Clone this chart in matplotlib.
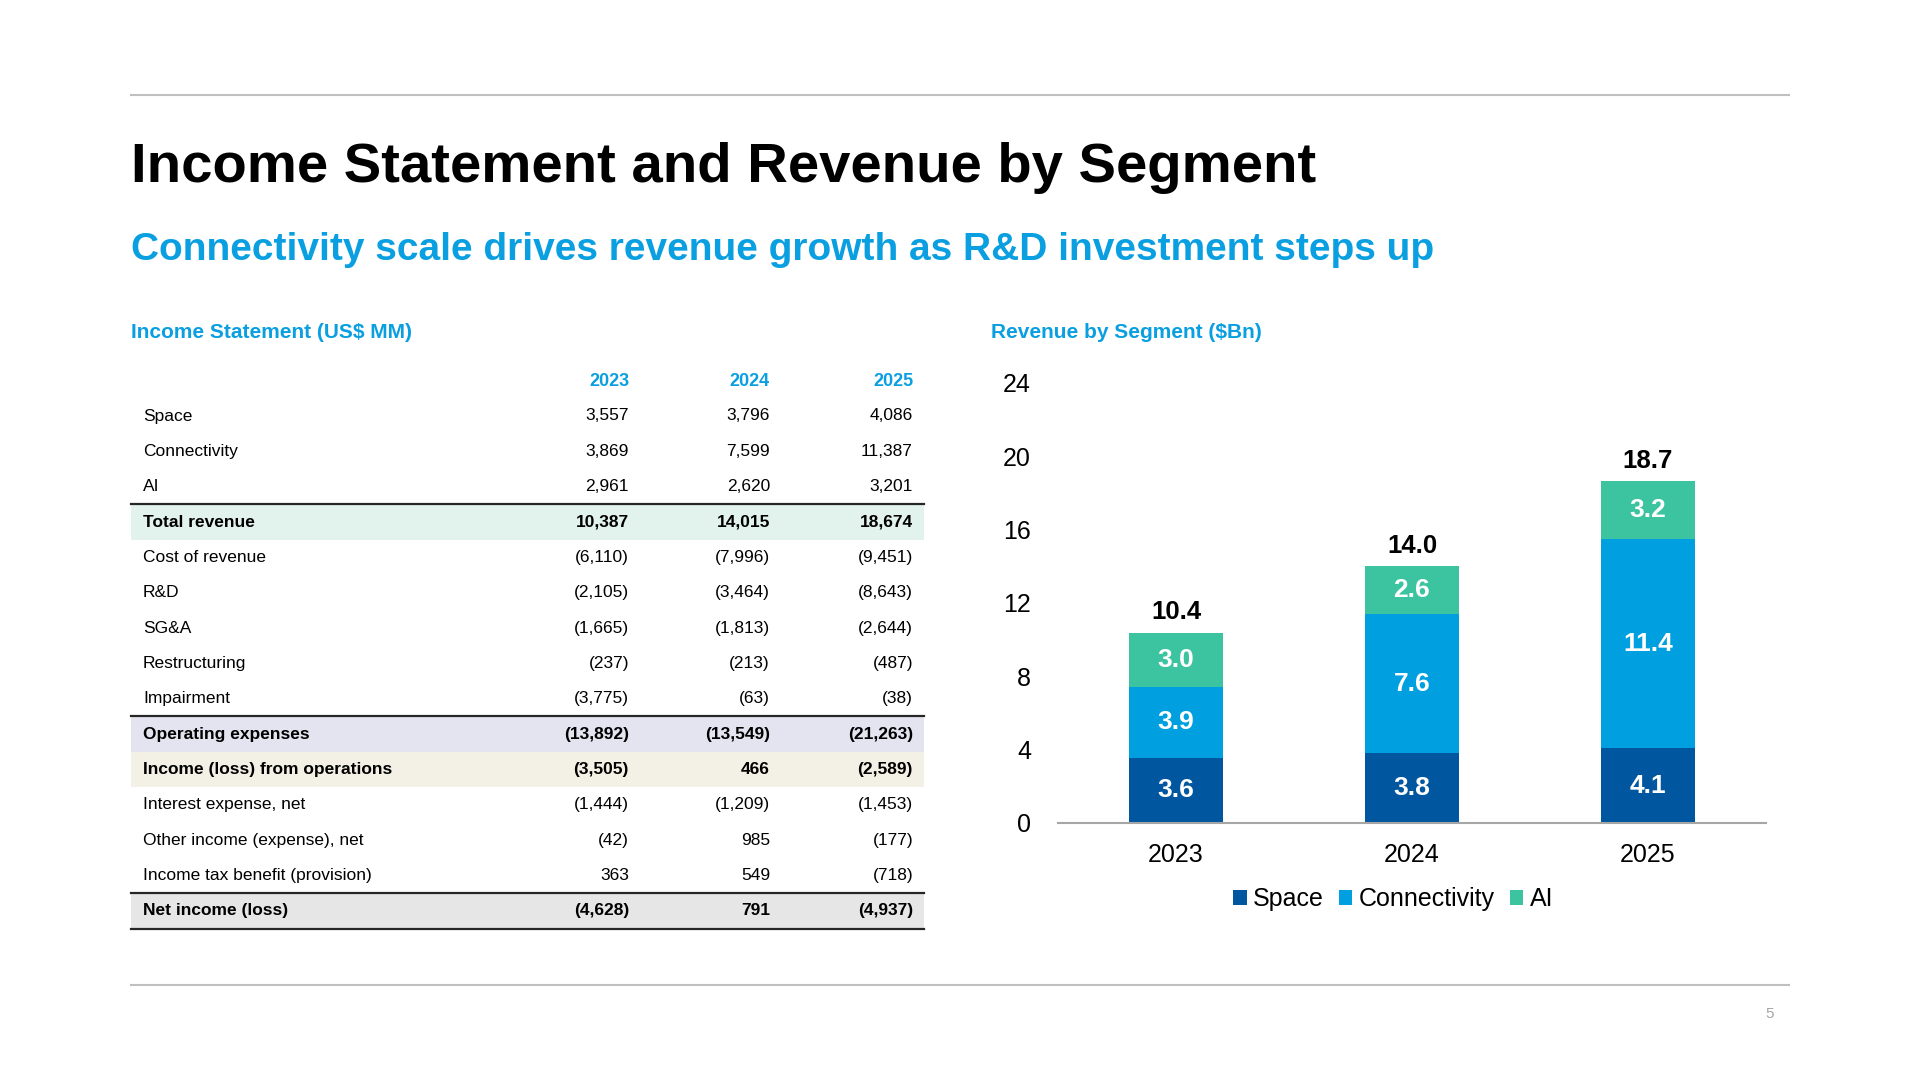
import matplotlib.pyplot as plt
from matplotlib.patches import Rectangle

plt.rcParams.update({
    "font.family": ["Liberation Sans", "DejaVu Sans"],
    "figure.dpi": 100,
})

BLUE = "#0A9FE0"
C_SPACE = "#00579F"
C_CONN = "#00A0E0"
C_AI = "#3CC4A0"
RULE = "#BFBFBF"

years = ["2023", "2024", "2025"]

# income statement, US$ MM
row_labels = ["Space", "Connectivity", "AI", "Total revenue", "Cost of revenue", "R&D",
              "SG&A", "Restructuring", "Impairment", "Operating expenses",
              "Income (loss) from operations", "Interest expense, net",
              "Other income (expense), net", "Income tax benefit (provision)", "Net income (loss)"]
col_2023 = [3557, 3869, 2961, 10387, -6110, -2105, -1665, -237, -3775, -13892, -3505, -1444, -42, 363, -4628]
col_2024 = [3796, 7599, 2620, 14015, -7996, -3464, -1813, -213, -63, -13549, 466, -1209, 985, 549, 791]
col_2025 = [4086, 11387, 3201, 18674, -9451, -8643, -2644, -487, -38, -21263, -2589, -1453, -177, -718, -4937]

bold_rows = ["Total revenue", "Operating expenses", "Income (loss) from operations", "Net income (loss)"]
band_colors = {"Total revenue": "#E2F2EC", "Operating expenses": "#E4E4F0",
               "Income (loss) from operations": "#F3F1E5", "Net income (loss)": "#E6E6E6"}
rule_above = ["Total revenue", "Operating expenses", "Net income (loss)"]

# revenue by segment, $Bn (from the table)
space = [col_2023[0] / 1000, col_2024[0] / 1000, col_2025[0] / 1000]
connectivity = [col_2023[1] / 1000, col_2024[1] / 1000, col_2025[1] / 1000]
ai = [col_2023[2] / 1000, col_2024[2] / 1000, col_2025[2] / 1000]


def fmt(v):
    return f"({abs(v):,})" if v < 0 else f"{v:,}"


fig = plt.figure(figsize=(19.2, 10.8))

# page layer in pixel coordinates
page = fig.add_axes([0, 0, 1, 1])
page.set_xlim(0, 1920)
page.set_ylim(1080, 0)
page.axis("off")

page.plot([131, 1789], [94.5, 94.5], color=RULE, lw=1.5)
page.plot([131, 1789], [985, 985], color=RULE, lw=1.5)
page.text(131, 168.5, "Income Statement and Revenue by Segment", fontsize=40.5, fontweight="bold",
          color="black", va="center", ha="left")
page.text(131, 249.5, "Connectivity scale drives revenue growth as R&D investment steps up",
          fontsize=28, fontweight="bold", color=BLUE, va="center", ha="left")
page.text(131, 332, "Income Statement (US$ MM)", fontsize=15, fontweight="bold", color=BLUE, va="center")
page.text(991, 332, "Revenue by Segment ($Bn)", fontsize=15, fontweight="bold", color=BLUE, va="center")
page.text(1770, 1014, "5", fontsize=11, color="#A6A6A6", va="center", ha="center")

# table
tx0, tx1 = 131, 924
label_x = 143
col_x = [629, 770, 913]
head_y = 382
row_y0 = 416
row_h = 35.35

for x, yr in zip(col_x, years):
    page.text(x, head_y, yr, fontsize=13, fontweight="bold", color=BLUE, ha="right", va="center")

for i, lab in enumerate(row_labels):
    y = row_y0 + i * row_h
    if lab in band_colors:
        page.add_patch(Rectangle((tx0, y - row_h / 2), tx1 - tx0, row_h,
                                 facecolor=band_colors[lab], edgecolor="none", zorder=0))
    if lab in rule_above:
        page.plot([tx0, tx1], [y - row_h / 2, y - row_h / 2], color="#262626", lw=1.6, zorder=2)
    w = "bold" if lab in bold_rows else "normal"
    page.text(label_x, y, lab, fontsize=12.5, fontweight=w, color="black", va="center", ha="left")
    for x, col in zip(col_x, [col_2023, col_2024, col_2025]):
        page.text(x, y, fmt(col[i]), fontsize=12.5, fontweight=w, color="black", va="center", ha="right")

y_last = row_y0 + (len(row_labels) - 1) * row_h + row_h / 2
page.plot([tx0, tx1], [y_last, y_last], color="#262626", lw=1.6, zorder=2)

# stacked bar chart
ax = fig.add_axes([1058 / 1920, 1 - 823 / 1080, 708 / 1920, 440 / 1080])
x = range(len(years))
bw = 0.4
b1 = ax.bar(x, space, bw, color=C_SPACE, label="Space")
b2 = ax.bar(x, connectivity, bw, bottom=space, color=C_CONN, label="Connectivity")
bottom3 = [s + c for s, c in zip(space, connectivity)]
b3 = ax.bar(x, ai, bw, bottom=bottom3, color=C_AI, label="AI")

for bars, vals, bots in [(b1, space, [0, 0, 0]), (b2, connectivity, space), (b3, ai, bottom3)]:
    for rect, v, b in zip(bars, vals, bots):
        ax.text(rect.get_x() + rect.get_width() / 2, b + v / 2, f"{v:.1f}", color="white",
                fontsize=19, fontweight="bold", ha="center", va="center")

totals = [s + c + a for s, c, a in zip(space, connectivity, ai)]
for i, t in enumerate(totals):
    ax.annotate(f"{t:.1f}", (i, t), xytext=(0, 14.5), textcoords="offset points",
                ha="center", va="center", fontsize=18.5, fontweight="bold", color="black",
                annotation_clip=False)

ax.set_xlim(-0.5, 2.5)
ax.set_ylim(0, 24)
ax.set_yticks([0, 4, 8, 12, 16, 20, 24])
ax.set_xticks(list(x))
ax.set_xticklabels(years)
for s in ["top", "right", "left"]:
    ax.spines[s].set_visible(False)
ax.spines["bottom"].set_color("#A6A6A6")
ax.spines["bottom"].set_linewidth(1.5)
ax.tick_params(axis="y", length=0, pad=19.5, labelsize=18)
ax.tick_params(axis="x", length=0, pad=14.5, labelsize=18)
ax.patch.set_alpha(0)

fig.legend(handles=[b1, b2, b3], loc="center", bbox_to_anchor=(1393 / 1920, 1 - 899 / 1080),
           ncol=3, frameon=False, fontsize=18, handlelength=0.55, handleheight=0.55,
           handletextpad=0.25, columnspacing=0.6)

fig.savefig("out.png", dpi=100, facecolor="white")
